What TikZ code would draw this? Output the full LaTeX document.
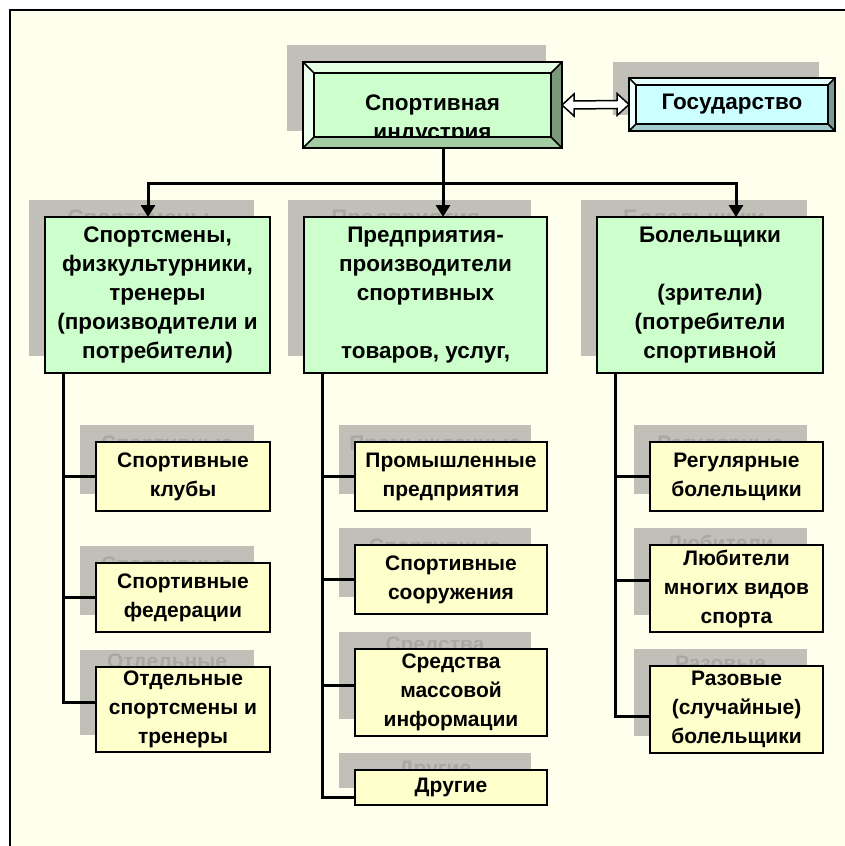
\documentclass[tikz,border=0pt]{standalone}
\usepackage{fontspec}
\setmainfont{Liberation Sans}
\usetikzlibrary{calc,arrows.meta}

\definecolor{paper}{HTML}{FFFFEE}
\definecolor{shadowgray}{HTML}{C0C0B8}
\definecolor{ghosttext}{HTML}{A9A9A2}
\definecolor{boxgreen}{HTML}{CCFFCC}
\definecolor{boxyellow}{HTML}{FFFFCC}
\definecolor{boxcyan}{HTML}{CCFFFF}

\tikzset{
	every node/.style={font=\fontsize{22.5}{29}\selectfont\bfseries, align=center, inner sep=0pt, outer sep=0pt},
	greenrect/.style={draw, line width=1.8pt, fill=boxgreen},
	yellowrect/.style={draw, line width=1.8pt, fill=boxyellow, font=\fontsize{21}{29}\selectfont\bfseries},
	shaderect/.style={fill=shadowgray},
	bevelnode/.style={inner sep=0pt},
	wire/.style={line width=3pt},
	arrowwire/.style={wire, -{Triangle[length=12pt,width=14pt]}},
	hollow/.style={draw, fill=white, line width=1.5pt, line join=miter},
}

%% shadow first (with the top of its text peeking out), then the box itself
%% style, name, centre, size, number of lines, first line, text
\newcommand{\shadedbox}[7]{%
	\node[shaderect,#4] at ($#3+(-16,-17)$) {};
	\node[#1, draw=none, fill=none, text=ghosttext] at ($#3+(-16,{-17-14.5*(#5-1)})$) {#6};
	\node[#1,#4] (#2) at #3 {#7};
}

%% four bevel faces round a box: node, width, top, left, bottom, right
\newcommand{\bevelfaces}[6]{%
	\fill[#3] (#1.north west) -- (#1.north east) -- ($(#1.north east)+(-#2,#2)$) -- ($(#1.north west)+(#2,#2)$) -- cycle;
	\fill[#4] (#1.north west) -- ($(#1.north west)+(#2,#2)$) -- ($(#1.south west)+(#2,-#2)$) -- (#1.south west) -- cycle;
	\fill[#5] (#1.south west) -- ($(#1.south west)+(#2,-#2)$) -- ($(#1.south east)+(-#2,-#2)$) -- (#1.south east) -- cycle;
	\fill[#6] (#1.north east) -- (#1.south east) -- ($(#1.south east)+(-#2,-#2)$) -- ($(#1.north east)+(-#2,#2)$) -- cycle;
	\draw[line width=1.6pt] (#1.north west) rectangle (#1.south east)
		($(#1.north west)+(#2,#2)$) rectangle ($(#1.south east)+(-#2,-#2)$);
	\draw[line width=1.6pt] (#1.north west) -- ++(#2,#2) (#1.north east) -- ++(-#2,#2)
		(#1.south east) -- ++(-#2,-#2) (#1.south west) -- ++(#2,-#2);
}

\begin{document}
\begin{tikzpicture}[x=1pt, y=-1pt]
	\useasboundingbox (0,0) rectangle (845,846);

	%% page and frame
	\fill[white] (0,0) rectangle (845,846);
	\fill[paper] (10,10) rectangle (845,846);
	\draw[line width=2.5pt] (10,846) -- (10,10) -- (845,10);

	%% top row
	\fill[shadowgray] (287,45) rectangle (546,131);
	\node[bevelnode, fill=boxgreen, minimum width=259pt, minimum height=86pt] (ind) at (432.5,105) {};
	\node (indlabel) at (432.5,119) {Спортивная\\индустрия};
	\bevelfaces{ind}{11}{boxgreen!50!white}{boxgreen!35!white}{boxgreen!80!black}{boxgreen!60!black}

	\fill[shadowgray] (613,62) rectangle (819,115);
	\node[bevelnode, fill=boxcyan, minimum width=206pt, minimum height=53pt] (gos) at (732,104.5) {Государство};
	\bevelfaces{gos}{7}{boxcyan!50!white}{boxcyan!35!white}{boxcyan!80!black}{boxcyan!60!black}

	%% hollow double arrow
	\draw[hollow] (ind.east) -- ++(12,-11) -- ++(0,7) -- ($(gos.west)+(-12,-4)$) -- ++(0,-7)
		-- (gos.west) -- ++(-12,11) -- ++(0,-7) -- ($(ind.east)+(12,4)$) -- ++(0,7) -- cycle;

	%% second row
	\shadedbox{greenrect}{sport}{(157.5,295)}{minimum width=225pt, minimum height=156pt}{5}{Спортсмены,}
		{Спортсмены,\\физкультурники,\\тренеры\\(производители и\\потребители)}
	\shadedbox{greenrect}{firms}{(425.5,295)}{minimum width=243pt, minimum height=156pt}{5}{Предприятия-}
		{Предприятия-\\производители\\спортивных\\\mbox{}\\товаров, услуг,}
	\shadedbox{greenrect}{fans}{(710,295)}{minimum width=226pt, minimum height=156pt}{5}{Болельщики}
		{Болельщики\\\mbox{}\\(зрители)\\(потребители\\спортивной}

	%% third row
	\shadedbox{yellowrect}{clubs}{(183,476.5)}{minimum width=174pt, minimum height=69pt}{2}{Спортивные}{Спортивные\\клубы}
	\shadedbox{yellowrect}{feds}{(183,597.5)}{minimum width=174pt, minimum height=69pt}{2}{Спортивные}{Спортивные\\федерации}
	\shadedbox{yellowrect}{single}{(183,709.5)}{minimum width=174pt, minimum height=85pt}{3}{Отдельные}{Отдельные\\спортсмены и\\тренеры}

	\shadedbox{yellowrect}{plants}{(451,476.5)}{minimum width=192pt, minimum height=69pt}{2}{Промышленные}{Промышленные\\предприятия}
	\shadedbox{yellowrect}{venues}{(451,579.5)}{minimum width=192pt, minimum height=69pt}{2}{Спортивные}{Спортивные\\сооружения}
	\shadedbox{yellowrect}{media}{(451,692.5)}{minimum width=192pt, minimum height=87pt}{3}{Средства}{Средства\\массовой\\информации}
	\shadedbox{yellowrect}{others}{(451,787.5)}{minimum width=192pt, minimum height=35pt}{1}{Другие}{Другие}

	\shadedbox{yellowrect}{regular}{(736.5,476.5)}{minimum width=173pt, minimum height=69pt}{2}{Регулярные}{Регулярные\\болельщики}
	\shadedbox{yellowrect}{multi}{(736.5,588.5)}{minimum width=173pt, minimum height=87pt}{3}{Любители}{Любители\\многих видов\\спорта}
	\shadedbox{yellowrect}{casual}{(736.5,709.5)}{minimum width=173pt, minimum height=87pt}{3}{Разовые}{Разовые\\(случайные)\\болельщики}

	%% tree lines
	\coordinate (jsport) at (148,183);
	\coordinate (jfirms) at (443,183);
	\coordinate (jfans) at (736,183);
	\draw[wire] (ind.south -| jfirms) -- (jfirms);
	\draw[wire, line cap=rect] (jsport) -- (jfans);
	\draw[arrowwire] (jsport) -- (jsport |- sport.north);
	\draw[arrowwire] (jfirms) -- (jfirms |- firms.north);
	\draw[arrowwire] (jfans) -- (jfans |- fans.north);

	\draw[wire] ([xshift=18pt]sport.south west) |- (clubs.west);
	\draw[wire] ([xshift=18pt]sport.south west) |- (feds.west);
	\draw[wire] ([xshift=18pt]sport.south west) |- ([yshift=7.5pt]single.west);

	\draw[wire] ([xshift=18pt]firms.south west) |- (plants.west);
	\draw[wire] ([xshift=18pt]firms.south west) |- (venues.west);
	\draw[wire] ([xshift=18pt]firms.south west) |- ([yshift=7.5pt]media.west);
	\draw[wire] ([xshift=18pt]firms.south west) |- ([yshift=-9.5pt]others.west);

	\draw[wire] ([xshift=18pt]fans.south west) |- (regular.west);
	\draw[wire] ([xshift=18pt]fans.south west) |- ([yshift=8.5pt]multi.west);
	\draw[wire] ([xshift=18pt]fans.south west) |- ([yshift=-6.5pt]casual.west);
\end{tikzpicture}
\end{document}
